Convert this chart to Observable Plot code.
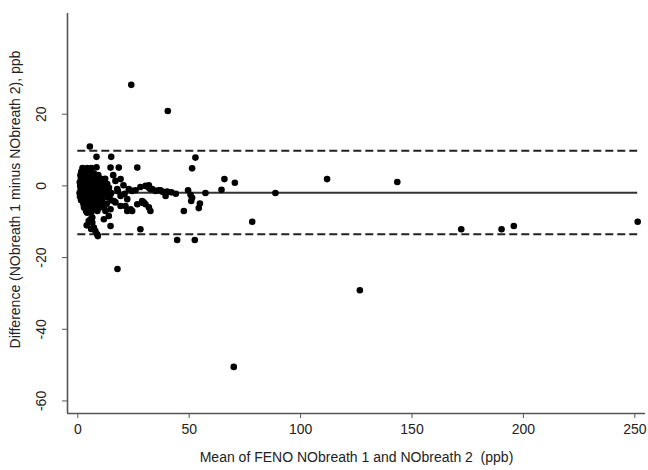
<!DOCTYPE html>
<html>
<head>
<meta charset="utf-8">
<script src="https://cdn.jsdelivr.net/npm/d3@7"></script>
<script src="https://cdn.jsdelivr.net/npm/@observablehq/plot@0.6"></script>
<style>
  html, body { margin: 0; padding: 0; background: #fff; }
  #chart svg { display: block; }
</style>
</head>
<body>
<div id="chart"></div>
<script>
const meanVals = [
  24,40.4,70,126.6,111.9,143.4,88.7,172.1,190.2,195.7,251.3,17.8,
  52.8,51.3,65.8,70.5,78.3,44.6,52.5,47.6,54.8,50.9,51.3,49.5,57.3,64.5,28.1,54.3,50.6,
  30.4,31.9,33.4,34.9,36.3,37.9,39.4,39.4,28.9,29.6,30.4,31.9,32.6,22.9,24.4,25.9,28.1,31.9,32.6,37.1,40.1,42,44,26.7,26.7,28.9,23.7,21.4,22.2,22.2,24.4,
  13.2,16.9,19.2,17.7,19.2,16.9,14.7,13.9,11,12.4,16.2,19.2,13.9,5.4,8.4,15,8.4,14.7,18.4,15.9,20.5,18,15,21,
  5.7,6.5,4.9,7.2,7.9,8.7,9,11.7,14.7,6.5,4,6,
  1.2,0.9,1.1,1.3,0.8,1.4,1.0,
  1.6,1.8,1.5,1.7,
  2.1,2.4,1.9,2.2,2.6,2.0,2.3,2.5,2.8,
  3.1,3.4,2.9,3.2,3.6,3.0,3.3,3.5,3.1,3.7,
  4.2,4.0,4.4,3.9,4.1,4.6,4.3,4.0,4.5,4.2,
  5.0,5.3,4.8,5.2,5.5,5.1,4.9,5.4,5.2,
  6.1,5.8,6.3,6.0,6.4,5.9,6.2,6.6,6.0,
  7.2,6.9,7.4,7.0,7.5,6.8,7.3,7.1,
  8.1,8.4,7.9,8.3,7.8,8.6,8.0,
  9.2,9.0,9.5,8.9,9.4,9.1,8.8,
  10.3,9.9,10.6,10.1,10.4,10.0,
  11.2,10.8,11.5,11.1,
  12.3,11.8,12.6,12.0,
  13,14,14.5,15,13,12.5
];
const diffVals = [
  28.2,20.9,-50.5,-29.1,1.9,1.1,-2,-12.1,-12.1,-11.2,-10,-23.2,
  7.9,4.9,1.9,0.9,-10,-15.1,-15.1,-7,-4.9,-4.2,-3.3,-1.2,-2,-1.1,-12.1,-6.2,-2.5,
  0,-0.5,-0.9,-1.4,-1.2,-1.6,-1.9,-2.8,-4.2,-4.6,-5.1,-6,-7,-0.9,-1.4,-1.2,-0.3,0.2,-0.9,-1.2,-1.6,-1.8,-2.2,5.1,-5.1,-4.7,-6.5,-5.6,-3.7,-7,-7,
  0.5,1.4,1.9,-0.9,-2.8,-4.6,-6.5,-3.3,-2.8,-7,-4.2,-5.6,-8.4,11,8.1,8.1,5.2,5.1,5.1,3,0.2,-1.5,-2,-2.2,
  -9.3,-10.2,-9.8,-11.6,-12.6,-13.5,-14,-9.3,-11.2,-8.8,-11,-12,
  3,1,0,-1,-2,2,-3,
  4,-0.5,-4,1.5,
  5,3,2,0.5,-1,-2.5,-4,-5,-6,
  4,2.5,1,0,-1,-2,-3,-4.5,-6,-7,
  5,3,1.5,0,-1.5,-2.5,-3.5,-5,-6.5,-7.5,
  4,2,1,-0.5,-2,-3,-4,-5.5,-7,
  5,3,1,0,-1,-2.5,-4,-6,-7.5,
  3.5,2,0.5,-1,-2,-3.5,-5,-6.5,
  2.5,1,-0.5,-2,-3,-4.5,-6,
  3,1.5,0,-1.5,-3,-5,-7,
  2,0,-1,-2.5,-4,-6,
  1,-0.5,-2,-4.5,
  2,-1,-3,-5.5,
  -1.5,-0.5,-2.5,-4,-5,0.5
];
// Bias and limits of agreement
const meanDiff = [-1.9];
const limits = [9.8, -13.5];
const lineSpan = [0, 251.3];
// Axes
const xTicks = [0, 50, 100, 150, 200, 250];
const yTicks = [20, 0, -20, -40, -60];
const xDomain = [-4.62, 254.8];
const yDomain = [-63.5, 48.1];
const xTitle = "Mean of FENO NObreath 1 and NObreath 2  (ppb)";
const yTitle = "Difference (NObreath 1 minus NObreath 2), ppb";

const points = meanVals.map((m, i) => ({m, d: diffVals[i]}));
const font = "'Liberation Sans', Arial, Helvetica, sans-serif";

const chart = Plot.plot({
  width: 648,
  height: 470,
  marginLeft: 67,
  marginRight: 3,
  marginTop: 13,
  marginBottom: 57,
  style: {fontFamily: font, background: "#fff"},
  x: {domain: xDomain, axis: null},
  y: {domain: yDomain, axis: null},
  marks: [
    // axis lines
    Plot.ruleX([xDomain[0]], {stroke: "#555", strokeWidth: 1.6}),
    Plot.ruleY([yDomain[0]], {stroke: "#555", strokeWidth: 1.6}),
    // x axis ticks and labels
    Plot.axisX(xTicks, {tickSize: 5, tickPadding: 6, fontSize: 14, stroke: "#555", color: "#222", label: null, anchor: "bottom"}),
    // y axis ticks (labels drawn rotated below)
    Plot.axisY(yTicks, {anchor: "left", tickSize: 5, stroke: "#555", tickFormat: () => "", label: null}),
    Plot.text(yTicks, {x: xDomain[0], y: d => d, text: d => String(d), rotate: -90, dx: -26, fontSize: 14, fill: "#222", textAnchor: "middle"}),
    // titles
    Plot.text([xTitle], {frameAnchor: "bottom", dy: 48, text: d => d, fontSize: 14, fill: "#222", textAnchor: "middle"}),
    Plot.text([yTitle], {frameAnchor: "left", dx: -52, dy: -14, text: d => d, rotate: -90, fontSize: 14, fill: "#222", textAnchor: "middle"}),
    // limits of agreement and bias
    Plot.ruleY(limits, {x1: lineSpan[0], x2: lineSpan[1], stroke: "#222", strokeWidth: 2, strokeDasharray: "8,4"}),
    Plot.ruleY(meanDiff, {x1: lineSpan[0], x2: lineSpan[1], stroke: "#333", strokeWidth: 2}),
    // data
    Plot.dot(points, {x: "m", y: "d", r: 3.3, fill: "#000", stroke: "none"})
  ]
});
document.getElementById("chart").appendChild(chart);
</script>
</body>
</html>
